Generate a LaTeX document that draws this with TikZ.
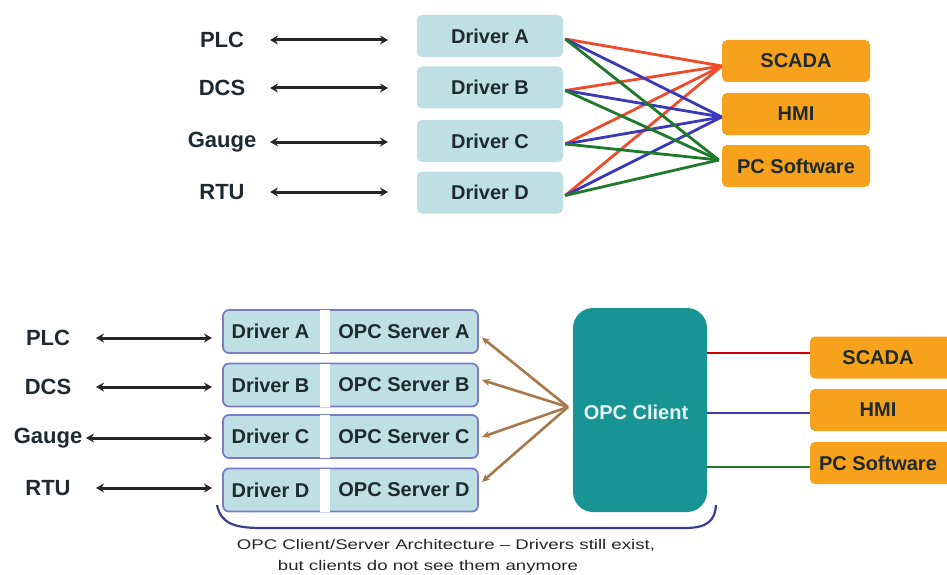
\documentclass[tikz,border=0pt]{standalone}
\usepackage{fontspec}
\setmainfont{Liberation Sans}
\usetikzlibrary{arrows.meta,calc}
\definecolor{txt}{HTML}{1E2A30}
\definecolor{drvfill}{HTML}{BEDFE3}
\definecolor{orng}{HTML}{F6A21C}
\definecolor{srvline}{HTML}{7A7CC8}
\definecolor{teal}{HTML}{189494}
\definecolor{brn}{HTML}{A8784A}
\definecolor{lred}{HTML}{EE4B2B}
\definecolor{lblue}{HTML}{3A3AB8}
\definecolor{lgreen}{HTML}{1E7A2A}
\definecolor{brace}{HTML}{3C3C96}
\begin{document}
\begin{tikzpicture}[x=1pt,y=-1pt,
  lbl/.style={font=\fontsize{22}{24}\selectfont\bfseries, text=txt},
  bx/.style={font=\fontsize{20}{22}\selectfont\bfseries, text=txt, inner sep=0pt},
  drv/.style={bx, fill=drvfill, rounded corners=5pt, minimum width=146pt, minimum height=42pt},
  org/.style={bx, fill=orng, rounded corners=5pt, minimum height=42pt},
  srv/.style={fill=drvfill, draw=srvline, line width=1.8pt, rounded corners=6pt, minimum width=255pt, minimum height=43pt, inner sep=0pt},
  biarr/.style={{Stealth[length=8pt,width=9pt]}-{Stealth[length=8pt,width=9pt]}, line width=3pt, black!85},
  mesh/.style={line width=2.8pt},
  barr/.style={-{Stealth[length=8pt,width=7pt]}, brn, line width=2.6pt}
]
\useasboundingbox (0,0) rectangle (947,575);
\clip (0,0) rectangle (947,575);

% ---------- top section ----------
\node[lbl] (tPLC) at (222,40) {PLC};
\node[lbl] (tDCS) at (222,88) {DCS};
\node[lbl] (tGau) at (222,142) {Gauge};
\node[lbl] (tRTU) at (222,192) {RTU};

\node[drv] (dA) at (490,36) {Driver A};
\node[drv] (dB) at (490,87.5) {Driver B};
\node[drv] (dC) at (490,141) {Driver C};
\node[drv] (dD) at (490,192.5) {Driver D};

\coordinate (aA1) at (270,40);  \coordinate (aA2) at (388,40);
\coordinate (aB1) at (270,88);  \coordinate (aB2) at (388,88);
\coordinate (aC1) at (270,142); \coordinate (aC2) at (388,142);
\coordinate (aD1) at (270,192); \coordinate (aD2) at (388,192);
\foreach \n in {A,B,C,D} \draw[biarr] (a\n1) -- (a\n2);

\node[org, minimum width=148pt] (oS) at (796,61) {SCADA};
\node[org, minimum width=148pt] (oH) at (796,114) {HMI};
\node[org, minimum width=148pt] (oP) at (796,166) {PC Software};

\foreach \d in {dA,dB,dC,dD}{
  \draw[mesh, lred] ($(\d.east)+(2,3)$) -- ($(oS.west)+(0,5)$);
}
\foreach \d in {dA,dB,dC,dD}{
  \draw[mesh, lblue] ($(\d.east)+(2,3)$) -- ($(oH.west)+(0,3)$);
}
\foreach \d in {dA,dB,dC,dD}{
  \draw[mesh, lgreen] ($(\d.east)+(2,3)$) -- ($(oP.west)+(-3,-6)$);
}

% ---------- bottom section ----------
\node[lbl] (bPLC) at (48,338) {PLC};
\node[lbl] (bDCS) at (48,387) {DCS};
\node[lbl] (bGau) at (48,438) {Gauge};
\node[lbl] (bRTU) at (48,488) {RTU};

\node[srv] (sA) at (350.5,331.5) {};
\node[srv] (sB) at (350.5,385) {};
\node[srv] (sC) at (350.5,436.5) {};
\node[srv] (sD) at (350.5,490) {};
\foreach \s/\l in {sA/A,sB/B,sC/C,sD/D}{
  \fill[white] ($(\s.north)+(-31,0.9)$) rectangle ($(\s.south)+(-21,-0.9)$);
  \node[bx] at ($(\s.center)+(-80,0)$) {Driver \l};
  \node[bx] at ($(\s.center)+(53.5,0)$) {OPC Server \l};
}

\coordinate (bA1) at (96,338);  \coordinate (bA2) at (212,338);
\coordinate (bB1) at (96,387);  \coordinate (bB2) at (212,387);
\coordinate (bC1) at (86,438);  \coordinate (bC2) at (212,438);
\coordinate (bD1) at (96,488);  \coordinate (bD2) at (212,488);
\foreach \n in {A,B,C,D} \draw[biarr] (b\n1) -- (b\n2);

\node[fill=teal, rounded corners=20pt, minimum width=134pt, minimum height=204pt] (cl) at (640,410) {};
\node[font=\fontsize{20}{22}\selectfont\bfseries, text=white!90!teal] (clt) at (636,412) {OPC Client};

\coordinate (hub) at (568,407);
\draw[barr] (hub) -- ($(sA.east)+(3,6)$);
\draw[barr] (hub) -- ($(sB.east)+(3,-5)$);
\draw[barr] (hub) -- ($(sC.east)+(3,0.5)$);
\draw[barr] (hub) -- ($(sD.east)+(3,-8)$);

\node[org, minimum width=145pt] (pS) at (882.5,357.5) {};
\node[org, minimum width=145pt] (pH) at (882.5,410) {};
\node[org, minimum width=145pt] (pP) at (882.5,463) {};
\node[bx] at (878,357.5) {SCADA};
\node[bx] at (878,410) {HMI};
\node[bx] at (878,463) {PC Software};

\draw[line width=2.6pt, red!80!black] ($(cl.east)+(0,-57)$) -- ($(pS.west)+(0,-4.5)$);
\draw[line width=2.6pt, lblue] ($(cl.east)+(0,3)$) -- ($(pH.west)+(0,3)$);
\draw[line width=2.6pt, lgreen] ($(cl.east)+(0,57)$) -- ($(pP.west)+(0,4)$);

\draw[brace, line width=2.2pt] (217,505) .. controls (221,524) and (235,528) .. (262,528)
  -- (685,528) .. controls (708,528) and (715,520) .. (716,505);

\node[text=black!85, font=\fontsize{14}{16}\selectfont] (cap1) at (446,545) {\scalebox{1.33}[1]{OPC Client/Server Architecture -- Drivers still exist,}};
\node[text=black!85, font=\fontsize{14}{16}\selectfont] (cap2) at (428,567) {\scalebox{1.33}[1]{but clients do not see them anymore}};
\end{tikzpicture}
\end{document}
